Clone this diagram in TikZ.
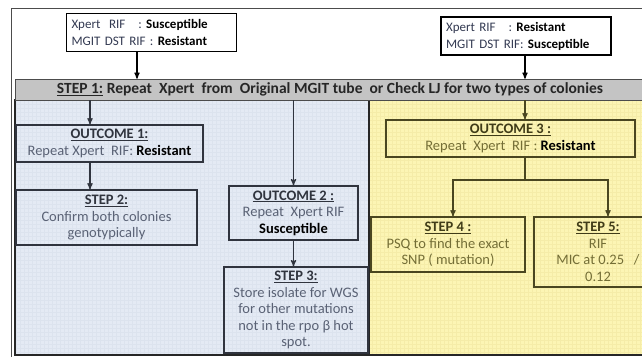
\documentclass[tikz,border=0pt]{standalone}
\usepackage{fontspec}
\setmainfont{Carlito}
\usepackage{tikz}
\usetikzlibrary{arrows}
\definecolor{bluebg}{HTML}{E4EAF4}
\definecolor{bluegrid}{HTML}{DCE3EE}
\definecolor{yellowbg}{HTML}{FCF5B4}
\definecolor{yellowgrid}{HTML}{F5ECA8}
\definecolor{bargray}{HTML}{C4C4C4}
\definecolor{navytxt}{HTML}{333A52}
\definecolor{bluetxt}{HTML}{5A6275}
\definecolor{bluedark}{HTML}{30343E}
\definecolor{olivetxt}{HTML}{746E36}
\definecolor{olivedark}{HTML}{403C18}
\definecolor{oliveline}{HTML}{4A4620}
\newcommand{\bhead}[1]{{\color{bluedark}\bfseries\underline{#1}}}
\newcommand{\yhead}[1]{{\color{olivedark}\bfseries\underline{#1}}}
\newcommand{\bw}[1]{{\color{black}\bfseries #1}}
\tikzstyle{top_box} = [rectangle, draw=black, fill=white, line width=1.3pt, align=left, text=navytxt, text width=160pt, inner xsep=5pt, minimum height=38pt, font=\fontsize{13}{17}\selectfont]
\tikzstyle{bar_box} = [rectangle, fill=bargray, draw=black!70, line width=0.6pt, text=black!85, font=\fontsize{15.5}{18}\selectfont\bfseries, minimum width=630pt, minimum height=21pt, inner sep=0pt]
\tikzstyle{blue_box} = [rectangle, draw=bluedark, line width=1.4pt, align=center, text=bluetxt, inner sep=0pt]
\tikzstyle{yel_box} = [rectangle, draw=oliveline, line width=1.4pt, align=center, text=olivetxt, inner sep=0pt]

\begin{document}
\begin{tikzpicture}[x=1pt,y=-1pt,->,>=stealth',line width=1.2pt,font=\fontsize{14.5}{16.5}\selectfont]
\clip (0,0) rectangle (642,356);
\useasboundingbox (0,0) rectangle (642,356);
\fill[white] (0,0) rectangle (642,356);
\draw[-,line width=0.6pt,black!70] (11,360) -- (11,8) -- (650,8);
\fill[bluebg] (15,100) rectangle (369,355);
\draw[-,step=4pt,bluegrid,line width=0.2pt] (15,100) grid (369,355);
\fill[yellowbg] (369,100) rectangle (650,355);
\draw[-,step=4pt,yellowgrid,line width=0.2pt] (369,100) grid (650,355);
\draw[-,line width=2pt,black!85] (15,100) rectangle (369,355);
\draw[-,line width=2pt,black!85] (369,100) rectangle (650,355);

\node [top_box] (topL) at (151.5,32.5) {Xpert\ \ RIF\ \ \ : \bw{Susceptible}\\MGIT\ DST RIF : \bw{Resistant}};
\node [top_box] (topR) at (526,36) {Xpert RIF\ \ \ : \bw{Resistant}\\MGIT DST RIF:\ \bw{Susceptible}};
\node [bar_box] (step1) at (330,89.5) {\underline{STEP 1:} Repeat\ \ Xpert\ \ from\ \ Original MGIT tube\ \ or Check LJ for two types of colonies};

\node [blue_box, minimum width=187pt, minimum height=37pt] (out1) at (109.5,143.5) {\bhead{OUTCOME 1:}\\Repeat\ Xpert\ \ RIF: \bw{Resistant}};
\node [blue_box, minimum width=181pt, minimum height=55pt] (step2) at (106.5,217.5) {\bhead{STEP 2:}\\Confirm both colonies\\genotypically};
\node [blue_box, minimum width=129pt, minimum height=54pt] (out2) at (293.5,213) {\bhead{OUTCOME 2 :}\\Repeat\ \ Xpert RIF\\\bw{Susceptible}};
\node [blue_box, minimum width=144pt, minimum height=86pt] (step3) at (296,310) {\bhead{STEP 3:}\\Store isolate for WGS\\for other mutations\\not in the rpo β hot\\spot.};

\node [yel_box, minimum width=249pt, minimum height=37pt] (out3) at (510.5,138.5) {\yhead{OUTCOME 3 :}\\Repeat\ \ Xpert\ \ RIF : \bw{Resistant}};
\node [yel_box, minimum width=154pt, minimum height=55pt] (step4) at (448,244.5) {\yhead{STEP 4 :}\\PSQ to find the exact\\SNP ( mutation)};
\node [yel_box, minimum width=128pt, minimum height=70pt] (step5) at (598,252) {\yhead{STEP 5:}\\RIF\\MIC at 0.25\ \ \ /\\0.12};

\coordinate (xa) at (137,0);
\coordinate (xb) at (90,0);
\coordinate (xc) at (525,0);
\coordinate (xd) at (453,0);
\coordinate (xe) at (608,0);
\coordinate (fork) at (525,180);

\draw (topL.south -| xa) -- (step1.north -| xa);
\draw (topR.south -| xc) -- (step1.north -| xc);
\draw [bluedark] (step1.south -| xb) -- (out1.north -| xb);
\draw [bluedark] (out1.south -| xb) -- (step2.north -| xb);
\draw [bluedark] (step1.south -| out2) -- (out2.north);
\draw [bluedark] (out2.south) -- (step3.north -| out2);
\draw [oliveline] (step1.south -| xc) -- (out3.north -| xc);
\draw [-,oliveline] (out3.south -| xc) -- (fork);
\draw [oliveline] (fork) -| (step4.north -| xd);
\draw [oliveline] (fork) -| (step5.north -| xe);
\end{tikzpicture}
\end{document}
